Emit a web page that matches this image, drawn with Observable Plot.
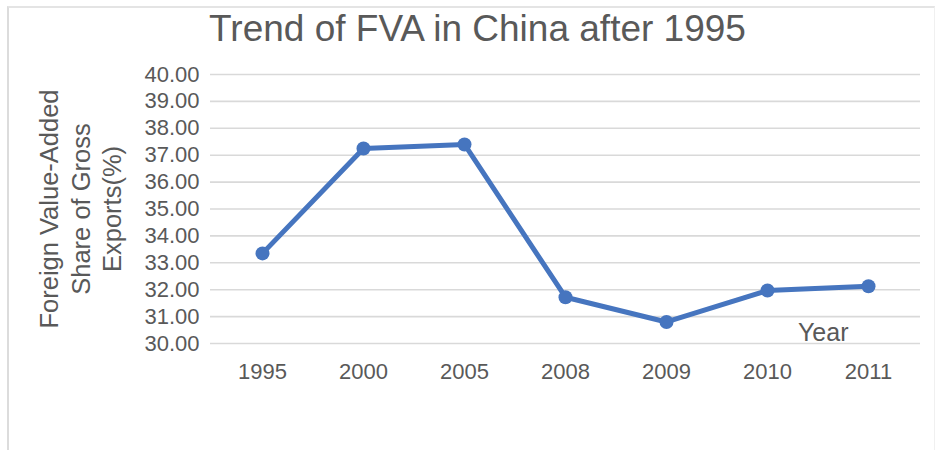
<!DOCTYPE html>
<html>
<head>
<meta charset="utf-8">
<script src="https://cdn.jsdelivr.net/npm/d3@7"></script>
<script src="https://cdn.jsdelivr.net/npm/@observablehq/plot@0.6"></script>
<style>
  html, body { margin: 0; padding: 0; background: #fff; }
  #wrap { position: relative; width: 937px; height: 450px; }
  #border { position: absolute; left: 7px; top: 6px; right: 2px; bottom: -2px;
            border-left: 2px solid #dcdcdc; border-top: 2px solid #e4e4e4; border-right: 1px solid #f0f0f0;
            pointer-events: none; }
</style>
</head>
<body>
<div id="wrap"><div id="border"></div></div>
<script>
const years = ["1995", "2000", "2005", "2008", "2009", "2010", "2011"];
const fva = [33.35, 37.25, 37.4, 31.72, 30.8, 31.97, 32.13];
const yTicks = [30, 31, 32, 33, 34, 35, 36, 37, 38, 39, 40];
const titleText = "Trend of FVA in China after 1995";
const yLabel = "Foreign Value-Added\nShare of Gross\nExports(%)";
const xLabel = "Year";

const data = years.map((y, i) => ({year: y, value: fva[i]}));
const textColor = "#595959";
const lineColor = "#4675bf";

const chart = Plot.plot({
  width: 937,
  height: 450,
  marginLeft: 210,
  marginRight: 17,
  marginTop: 74,
  marginBottom: 107,
  style: {fontFamily: "'Liberation Sans', Arial, sans-serif", color: textColor, background: "transparent"},
  x: {type: "point", domain: years, padding: 0.5, label: null},
  y: {domain: [30, 40], label: null},
  marks: [
    Plot.ruleY(yTicks, {stroke: "#d9d9d9", strokeWidth: 1.6}),
    Plot.axisY(yTicks, {tickSize: 0, tickPadding: 11, tickFormat: d => d.toFixed(2), fontSize: 22, fill: textColor, label: null}),
    Plot.axisX(years, {tickSize: 0, tickPadding: 20, fontSize: 22, fill: textColor, label: null}),
    Plot.line(data, {x: "year", y: "value", stroke: lineColor, strokeWidth: 5, strokeLinejoin: "round", strokeLinecap: "round"}),
    Plot.dot(data, {x: "year", y: "value", r: 7, fill: lineColor, stroke: "none"}),
    Plot.text([titleText], {frameAnchor: "top", dx: -88, dy: -45, fontSize: 37, fill: textColor, lineAnchor: "middle"}),
    Plot.text([yLabel], {frameAnchor: "left", dx: -131, rotate: -90, fontSize: 25.5, lineHeight: 1.24, fill: textColor, textAnchor: "middle", lineAnchor: "middle"}),
    Plot.text([xLabel], {frameAnchor: "bottom-right", dx: -72, dy: -3, fontSize: 25, fill: textColor, textAnchor: "end", lineAnchor: "bottom"})
  ]
});
document.getElementById("wrap").prepend(chart);
</script>
</body>
</html>
